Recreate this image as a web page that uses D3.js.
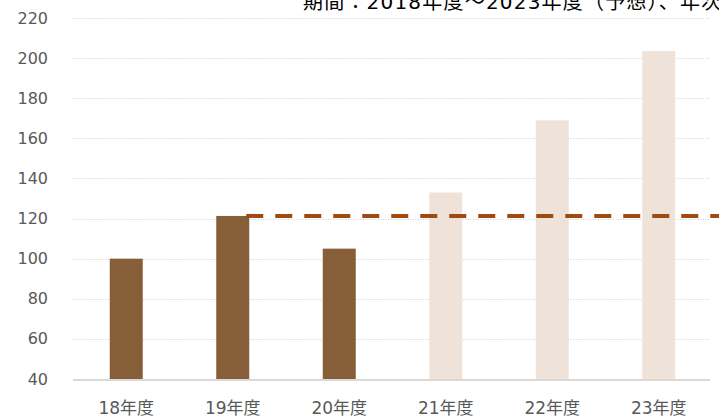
<!DOCTYPE html>
<html>
<head>
<meta charset="utf-8">
<script src="https://cdn.jsdelivr.net/npm/d3@7"></script>
<style>
  body { margin: 0; background: #fff; }
  text { font-family: "DejaVu Sans", "Noto Sans CJK JP", sans-serif; }
</style>
</head>
<body>
<div id="wrapper"></div>
<script>
// data
const categories = ["18年度", "19年度", "20年度", "21年度", "22年度", "23年度"];
const values = [100, 121.3, 105, 133, 169, 203.5];
const forecast = [false, false, false, true, true, true];
const levelValue = 121.3;
const yTicks = [40, 60, 80, 100, 120, 140, 160, 180, 200, 220];
const title = "期間：2018年度～2023年度（予想）、年次";

const dimensions = {
  width: 719,
  height: 418,
  margin: { top: 18, right: 7, bottom: 39, left: 73 },
};
dimensions.boundedWidth = dimensions.width - dimensions.margin.left - dimensions.margin.right;
dimensions.boundedHeight = dimensions.height - dimensions.margin.top - dimensions.margin.bottom;

const svg = d3.select("#wrapper").append("svg")
  .attr("width", dimensions.width)
  .attr("height", dimensions.height);

const bounds = svg.append("g")
  .attr("transform", `translate(${dimensions.margin.left},${dimensions.margin.top})`);

const xScale = d3.scaleBand()
  .domain(categories)
  .range([0, dimensions.boundedWidth])
  .paddingInner(0.69)
  .paddingOuter(0.345);

const yScale = d3.scaleLinear()
  .domain([40, 220])
  .range([dimensions.boundedHeight, 0]);

// gridlines
bounds.append("g")
  .selectAll("line")
  .data(yTicks.slice(1))
  .join("line")
  .attr("x1", 0)
  .attr("x2", dimensions.boundedWidth - 2)
  .attr("y1", d => Math.round(yScale(d)) + 0.5)
  .attr("y2", d => Math.round(yScale(d)) + 0.5)
  .attr("stroke", "#d0d0d0")
  .attr("stroke-width", 1)
  .attr("stroke-dasharray", "1,1.5");

// bars
bounds.append("g")
  .selectAll("rect")
  .data(categories)
  .join("rect")
  .attr("x", d => xScale(d))
  .attr("width", xScale.bandwidth())
  .attr("y", (d, i) => yScale(values[i]))
  .attr("height", (d, i) => yScale(40) - yScale(values[i]))
  .attr("fill", (d, i) => forecast[i] ? "#efe3d9" : "#865f38");

// baseline
bounds.append("line")
  .attr("x1", 0)
  .attr("x2", dimensions.boundedWidth - 2)
  .attr("y1", yScale(40) + 1)
  .attr("y2", yScale(40) + 1)
  .attr("stroke", "#d9d9d9")
  .attr("stroke-width", 2);

// level line from 19年度
bounds.append("line")
  .attr("x1", xScale("19年度") + xScale.bandwidth() - 3)
  .attr("x2", dimensions.width)
  .attr("y1", yScale(levelValue))
  .attr("y2", yScale(levelValue))
  .attr("stroke", "#9e4a10")
  .attr("stroke-width", 4)
  .attr("stroke-dasharray", "17,12");

// y axis labels
bounds.append("g")
  .selectAll("text")
  .data(yTicks)
  .join("text")
  .attr("x", -25)
  .attr("y", d => yScale(d))
  .attr("dy", "0.35em")
  .attr("text-anchor", "end")
  .attr("fill", "#595959")
  .style("font-size", "16px")
  .text(d => d);

// x axis labels
bounds.append("g")
  .selectAll("text")
  .data(categories)
  .join("text")
  .attr("x", d => xScale(d) + xScale.bandwidth() / 2)
  .attr("y", dimensions.boundedHeight + 35)
  .attr("text-anchor", "middle")
  .attr("fill", "#595959")
  .style("font-size", "17px")
  .text(d => d);

// title (runs past the right edge, as in the original)
svg.append("text")
  .attr("x", 303)
  .attr("y", 9)
  .attr("fill", "#000")
  .style("font-size", "20px")
  .style("letter-spacing", "1.2px")
  .text(title);
</script>
</body>
</html>
